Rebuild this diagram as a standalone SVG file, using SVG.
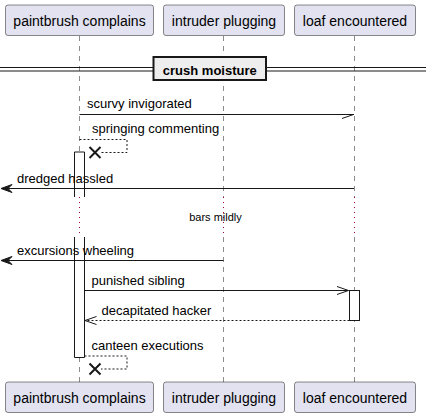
<svg xmlns="http://www.w3.org/2000/svg" width="426" height="417" viewBox="0 0 426 417">
<style>
text{font-family:"Liberation Sans",Arial,sans-serif;fill:#000}
.pbox{fill:#E2E2F0;stroke:#181818;stroke-width:0.5}
.ptxt{font-size:14px;text-anchor:middle}
.life{stroke:#181818;stroke-width:0.5;stroke-dasharray:5,5;fill:none}
.delay{stroke:#A80036;stroke-width:1;stroke-dasharray:1,4;fill:none}
.msg{stroke:#181818;stroke-width:1;fill:none}
.ret{stroke:#181818;stroke-width:1;fill:none;stroke-dasharray:2,2}
.mtxt{font-size:13px}
.act{fill:#FFFFFF;stroke:#181818;stroke-width:1}
.x{stroke:#181818;stroke-width:2}
</style>
<g id="lifelines">
<line class="life" x1="79.5" y1="36" x2="79.5" y2="197"/>
<line class="life" x1="79.5" y1="237" x2="79.5" y2="382"/>
<line class="life" x1="223.5" y1="36" x2="223.5" y2="197"/>
<line class="life" x1="223.5" y1="237" x2="223.5" y2="382"/>
<line class="life" x1="354.5" y1="36" x2="354.5" y2="197"/>
<line class="life" x1="354.5" y1="237" x2="354.5" y2="382"/>
<line class="delay" x1="79.5" y1="197" x2="79.5" y2="237"/>
<line class="delay" x1="223.5" y1="197" x2="223.5" y2="237"/>
<line class="delay" x1="354.5" y1="197" x2="354.5" y2="237"/>
</g>
<g id="activations">
<path class="act" d="M74.5,197 L74.5,152 L84.5,152 L84.5,197"/>
<path class="act" d="M74.5,237 L74.5,357.5 L84.5,357.5 L84.5,237"/>
<rect class="act" x="349.5" y="290.5" width="10" height="30"/>
</g>
<g id="p-paintbrush">
<rect class="pbox" x="5.5" y="5" width="148" height="30.5" rx="2.5"/>
<text class="ptxt" x="79.5" y="25.5">paintbrush complains</text>
<rect class="pbox" x="5.5" y="382" width="148" height="30.5" rx="2.5"/>
<text class="ptxt" x="79.5" y="402.5">paintbrush complains</text>
</g>
<g id="p-intruder">
<rect class="pbox" x="163.5" y="5" width="121" height="30.5" rx="2.5"/>
<text class="ptxt" x="224" y="25.5">intruder plugging</text>
<rect class="pbox" x="163.5" y="382" width="121" height="30.5" rx="2.5"/>
<text class="ptxt" x="224" y="402.5">intruder plugging</text>
</g>
<g id="p-loaf">
<rect class="pbox" x="294.5" y="5" width="121" height="30.5" rx="2.5"/>
<text class="ptxt" x="355" y="25.5">loaf encountered</text>
<rect class="pbox" x="294.5" y="382" width="121" height="30.5" rx="2.5"/>
<text class="ptxt" x="355" y="402.5">loaf encountered</text>
</g>
<g id="divider">
<line x1="0" y1="67.5" x2="426" y2="67.5" stroke="#181818" stroke-width="1"/>
<line x1="0" y1="71" x2="426" y2="71" stroke="#181818" stroke-width="1"/>
<rect x="153.5" y="57" width="112.5" height="23" fill="#EEEEEE" stroke="#181818" stroke-width="2"/>
<text x="209.8" y="74.5" font-size="13px" font-weight="bold" text-anchor="middle">crush moisture</text>
</g>
<g id="connectors">
<line class="msg" x1="79.5" y1="114.5" x2="354" y2="114.5"/>
<line class="msg" x1="342" y1="118.5" x2="353.5" y2="114.5"/>
<text class="mtxt" x="87" y="108">scurvy invigorated</text>

<polyline class="ret" points="79.5,139.5 127,139.5 127,152.5 101,152.5"/>
<path class="x" d="M89.5,147 L100.5,158 M100.5,147 L89.5,158"/>
<text class="mtxt" x="92" y="133">springing commenting</text>

<line class="msg" x1="354" y1="188.5" x2="3" y2="188.5"/>
<polygon points="1,188.5 12,184.5 8,188.5 12,192.5" fill="#181818" stroke="#181818" stroke-width="1"/>
<text class="mtxt" x="17" y="182.5">dredged hassled</text>

<text x="215.5" y="220.5" font-size="11px" text-anchor="middle">bars mildly</text>

<line class="msg" x1="223.5" y1="260.5" x2="3" y2="260.5"/>
<polygon points="1,260.5 12,256.5 8,260.5 12,264.5" fill="#181818" stroke="#181818" stroke-width="1"/>
<text class="mtxt" x="17" y="254.5">excursions wheeling</text>

<line class="msg" x1="84.5" y1="290.5" x2="348.5" y2="290.5"/>
<polyline class="msg" points="337,286.5 348.5,290.5 337,294.5"/>
<text class="mtxt" x="91.5" y="285">punished sibling</text>

<line class="ret" x1="349.5" y1="320.5" x2="86" y2="320.5"/>
<polyline class="msg" points="96.5,316.5 85,320.5 96.5,324.5"/>
<text class="mtxt" x="101.5" y="315">decapitated hacker</text>

<polyline class="ret" points="84.5,356 127,356 127,369 101,369"/>
<path class="x" d="M89.5,363.5 L100.5,374.5 M100.5,363.5 L89.5,374.5"/>
<text class="mtxt" x="91.5" y="349.5">canteen executions</text>
</g>
</svg>
